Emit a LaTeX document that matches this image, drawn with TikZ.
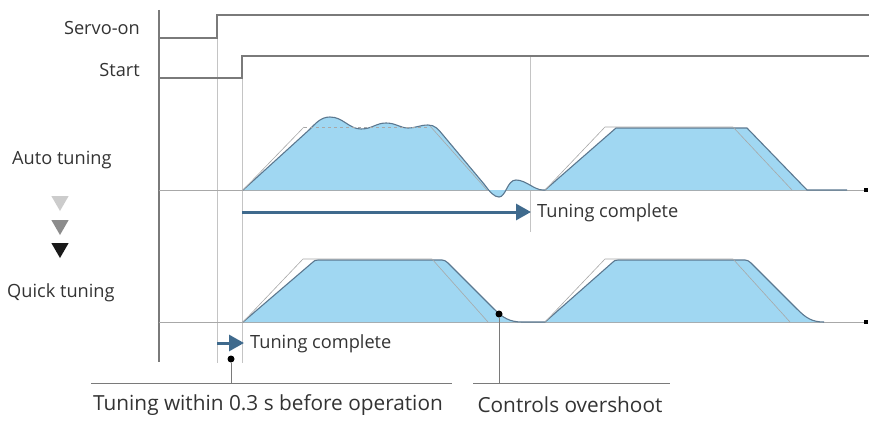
\documentclass[tikz,border=0pt]{standalone}
\usepackage{fontspec}
\setmainfont{Open Sans}
\usetikzlibrary{arrows.meta,shapes.geometric}
\definecolor{fillblue}{HTML}{A0D7F2}
\definecolor{edgeblue}{HTML}{5B7890}
\definecolor{arrowblue}{HTML}{3F6A8D}
\definecolor{axisgray}{HTML}{7A7A7A}
\definecolor{guidegray}{HTML}{C4C4C4}
\definecolor{cmdgray}{HTML}{A8A8A8}
\begin{document}
\begin{tikzpicture}[x=1pt,y=-1pt,
  lbl/.style={font=\fontsize{18.2}{21}\selectfont, inner sep=0pt, text=black!80},
  biglbl/.style={font=\fontsize{20.8}{24}\selectfont, inner sep=0pt, text=black!80},
  signal/.style={draw=axisgray, line width=1.1pt},
  guide/.style={draw=guidegray, line width=0.8pt},
  baseline/.style={draw=cmdgray, line width=0.9pt},
  profile/.style={fill=fillblue, draw=edgeblue, line width=1.1pt, line join=round},
  command/.style={draw=cmdgray, line width=0.6pt},
  tunearrow/.style={draw=arrowblue, line width=3pt, -{Triangle[length=15pt,width=16pt]}},
  marker/.style={circle, fill=black, inner sep=0pt, minimum size=7pt},
  endmark/.style={rectangle, fill=black, inner sep=0pt, minimum size=3.5pt},
  tri/.style={isosceles triangle, shape border rotate=-90, isosceles triangle apex angle=60,
              inner sep=0pt, minimum height=15pt, minimum width=16pt},
  note/.style={draw=axisgray, line width=0.9pt}]
\useasboundingbox (0,0) rectangle (869,420);

% ---- guide lines (behind everything) ----
\coordinate (g1top) at (217,38);  \coordinate (g1bot) at (217,363);
\coordinate (g2top) at (242,78);  \coordinate (g2bot) at (242,363);
\coordinate (g3top) at (530,56);  \coordinate (g3bot) at (530,232);
\draw[guide] (g1top) -- (g1bot);
\draw[guide] (g2top) -- (g2bot);
\draw[guide] (g3top) -- (g3bot);

% ---- time axis ----
\coordinate (axtop) at (159,10);
\coordinate (axbot) at (159,362);
\draw[signal] (axtop) -- (axbot);

% ---- input signals ----
\node[lbl, anchor=east] (servo) at (140,28) {Servo-on};
\node[lbl, anchor=east] (start) at (140,70) {Start};
\draw[signal] (159,38) -- (217,38) -- (217,15) -- (869,15);
\draw[signal] (159,78) -- (242,78) -- (242,56) -- (869,56);

% ---- auto tuning trace ----
\coordinate (autoL) at (159,190);
\node[endmark] (autoR) at (866,190) {};
\draw[baseline] (autoL) -- (autoR);
\path[profile]
  (243,190) -- (309,130)
  .. controls (316,123) and (321,117) .. (330,117)
  .. controls (343,117) and (349,129) .. (361,129)
  .. controls (372,129) and (376,123) .. (386,123)
  .. controls (396,123) and (400,128) .. (408,128)
  .. controls (416,128) and (420,125) .. (428,125)
  .. controls (435,125) and (438,129) .. (443,135)
  -- (484,184)
  .. controls (490,192) and (494,197) .. (499,197)
  .. controls (506,197) and (507,180) .. (516,180)
  .. controls (526,180) and (534,190) .. (543,190)
  -- (545,190) -- (616,128) -- (747,128) -- (807,190) -- (847,190);
\draw[command] (243,190) -- (304,127);
\draw[command, dashed] (304,127) -- (428,127);
\draw[command] (430,126) -- (487,190);
\draw[command] (545,190) -- (605,127) -- (733,127) -- (792,190);

\draw[tunearrow] (242,212) -- (531,212);
\node[lbl, anchor=west] (autodone) at (537,213) {Tuning complete};

% ---- quick tuning trace ----
\coordinate (quickL) at (159,322);
\node[endmark] (quickR) at (866,322) {};
\draw[baseline] (quickL) -- (quickR);
\path[profile]
  (243,322) -- (313,262)
  .. controls (314,261) and (315,260) .. (318,260)
  -- (442,260)
  .. controls (444,260) and (446,261) .. (448,263)
  -- (494,309)
  .. controls (503,318) and (510,322) .. (522,322)
  -- (545,322) -- (613,262)
  .. controls (614,261) and (615,260) .. (618,260)
  -- (745,260)
  .. controls (747,260) and (749,261) .. (751,263)
  -- (797,309)
  .. controls (806,318) and (812,322) .. (824,322);
\draw[command] (243,322) -- (303,259) -- (432,259) -- (488,322);
\draw[command] (545,322) -- (605,259) -- (733,259) -- (790,322);
\node[marker] (overshoot) at (499,314) {};

\draw[tunearrow] (217,343) -- (244,343);
\node[lbl, anchor=west] (quickdone) at (250,344) {Tuning complete};
\node[marker] (quickdot) at (231,359) {};

% ---- method labels ----
\node[lbl, anchor=west] (auto) at (12,160) {Auto tuning};
\node[tri, fill=black!20] (t1) at (60,201) {};
\node[tri, fill=black!45] (t2) at (60,225) {};
\node[tri, fill=black!90] (t3) at (60,248) {};
\node[lbl, anchor=west] (quick) at (7,293) {Quick tuning};

% ---- annotations ----
\coordinate (b1L) at (91,383);  \coordinate (b1R) at (452,383);
\coordinate (b2L) at (473,383); \coordinate (b2R) at (670,383);
\draw[note] (b1L) -- (b1R);
\draw[note] (b2L) -- (b2R);
\draw[note] (quickdot) -- (quickdot |- b1L);
\draw[note] (overshoot) -- (overshoot |- b2L);
\node[biglbl] (within) at (268,405) {Tuning within 0.3 s before operation};
\node[biglbl] (ctrl) at (570,405) {Controls overshoot};
\end{tikzpicture}
\end{document}
